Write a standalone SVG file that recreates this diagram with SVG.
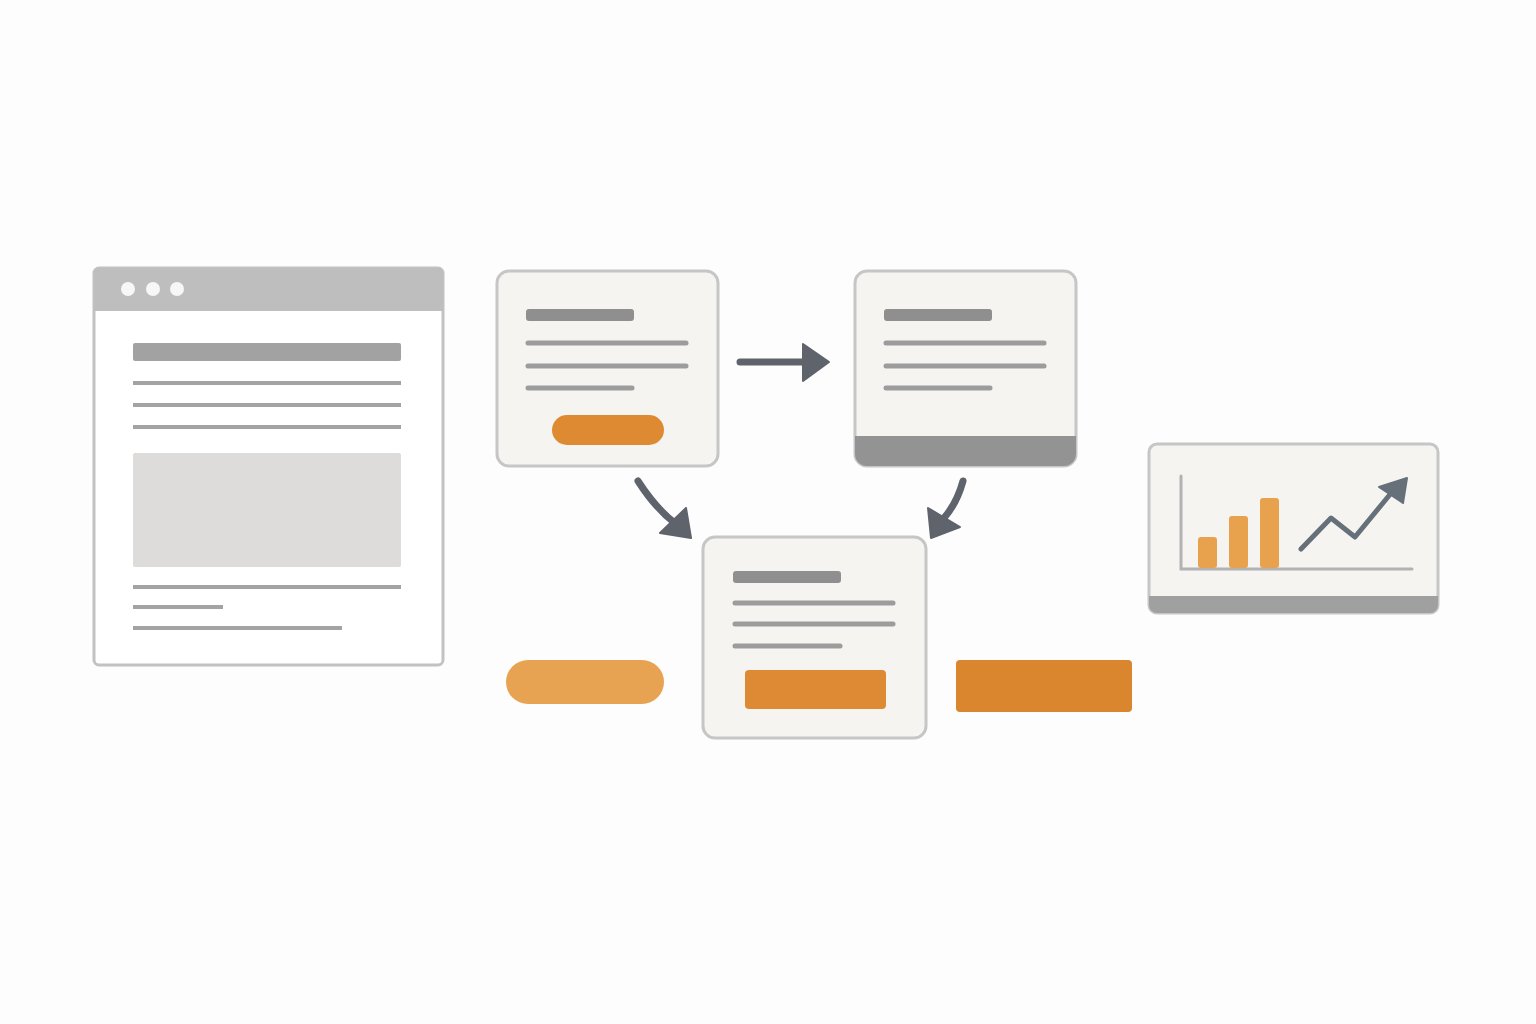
<svg xmlns="http://www.w3.org/2000/svg" width="1536" height="1024" viewBox="0 0 1536 1024">
<style>
.card{fill:#f5f4f1;stroke:#c6c6c6;stroke-width:3}
.ln{stroke:#9c9c9c;stroke-width:5;stroke-linecap:round}
.bl{stroke:#a3a3a3;stroke-width:4}
.hd{fill:#8f8f8f}
.arr{stroke:#5f636b;fill:none;stroke-width:7;stroke-linecap:round}
.ah{fill:#5f636b;stroke:#5f636b;stroke-width:2;stroke-linejoin:round}
</style>
<rect width="1536" height="1024" fill="#fdfdfd"/>
<g id="browser">
<rect x="94" y="268" width="349" height="397" rx="5" fill="#ffffff" stroke="#c2c2c2" stroke-width="3"/>
<path d="M94 311 V273 a5 5 0 0 1 5 -5 H438 a5 5 0 0 1 5 5 V311 Z" fill="#bebebe"/>
<circle cx="128" cy="289" r="7" fill="#f7f7f7"/>
<circle cx="153" cy="289" r="7" fill="#f7f7f7"/>
<circle cx="177" cy="289" r="7" fill="#f7f7f7"/>
<rect x="133" y="343" width="268" height="18" rx="2" fill="#a2a2a2"/>
<line class="bl" x1="133" y1="383" x2="401" y2="383"/>
<line class="bl" x1="133" y1="405" x2="401" y2="405"/>
<line class="bl" x1="133" y1="427" x2="401" y2="427"/>
<rect x="133" y="453" width="268" height="114" rx="2" fill="#dddcda"/>
<line class="bl" x1="133" y1="587" x2="401" y2="587"/>
<line class="bl" x1="133" y1="607" x2="223" y2="607"/>
<line class="bl" x1="133" y1="628" x2="342" y2="628"/>
</g>
<g id="card1">
<rect class="card" x="497" y="271" width="221" height="195" rx="12"/>
<rect class="hd" x="526" y="309" width="108" height="12" rx="3"/>
<line class="ln" x1="528" y1="343" x2="686" y2="343"/>
<line class="ln" x1="528" y1="366" x2="686" y2="366"/>
<line class="ln" x1="528" y1="388" x2="632" y2="388"/>
<rect x="552" y="415" width="112" height="30" rx="15" fill="#dd8a33"/>
</g>
<g id="card2">
<rect class="card" x="855" y="271" width="221" height="195" rx="12"/>
<path d="M855 436 H1076 V454 a12 12 0 0 1 -12 12 H867 a12 12 0 0 1 -12 -12 Z" fill="#939393"/>
<rect class="hd" x="884" y="309" width="108" height="12" rx="3"/>
<line class="ln" x1="886" y1="343" x2="1044" y2="343"/>
<line class="ln" x1="886" y1="366" x2="1044" y2="366"/>
<line class="ln" x1="886" y1="388" x2="990" y2="388"/>
</g>
<g id="card3">
<rect class="card" x="703" y="537" width="223" height="201" rx="12"/>
<rect class="hd" x="733" y="571" width="108" height="12" rx="3"/>
<line class="ln" x1="735" y1="603" x2="893" y2="603"/>
<line class="ln" x1="735" y1="624" x2="893" y2="624"/>
<line class="ln" x1="735" y1="646" x2="840" y2="646"/>
<rect x="745" y="670" width="141" height="39" rx="4" fill="#de8a35"/>
</g>
<g id="pill-left">
<rect x="506" y="660" width="158" height="44" rx="22" fill="#e8a352"/>
</g>
<g id="rect-right">
<rect x="956" y="660" width="176" height="52" rx="4" fill="#d9862f"/>
</g>
<g id="chart">
<rect class="card" x="1149" y="444" width="289" height="169" rx="8"/>
<path d="M1149 596 H1438 V605 a8 8 0 0 1 -8 8 H1157 a8 8 0 0 1 -8 -8 Z" fill="#a0a0a0"/>
<polyline points="1181,476 1181,569 1412,569" fill="none" stroke="#b2b2b2" stroke-width="3" stroke-linecap="round"/>
<rect x="1198" y="537" width="19" height="31" rx="3" fill="#e8a24e"/>
<rect x="1229" y="516" width="19" height="52" rx="3" fill="#e8a24e"/>
<rect x="1260" y="498" width="19" height="70" rx="3" fill="#e8a24e"/>
<polyline points="1301,549 1331,518 1355,537 1392,492" fill="none" stroke="#66707a" stroke-width="5" stroke-linecap="round" stroke-linejoin="round"/>
<polygon points="1407,478 1403,503 1379,487" fill="#66707a" stroke="#66707a" stroke-width="2" stroke-linejoin="round"/>
</g>
<g id="connectors">
<path class="arr" d="M740 362 L806 362"/>
<polygon class="ah" points="803,344 829,362 803,381"/>
<path class="arr" d="M638 481 Q656 509 676 524"/>
<polygon class="ah" points="660,533 691,538 686,508"/>
<path class="arr" d="M963 481 Q957 503 944 518"/>
<polygon class="ah" points="928,508 931,538 960,527"/>
</g>
</svg>
